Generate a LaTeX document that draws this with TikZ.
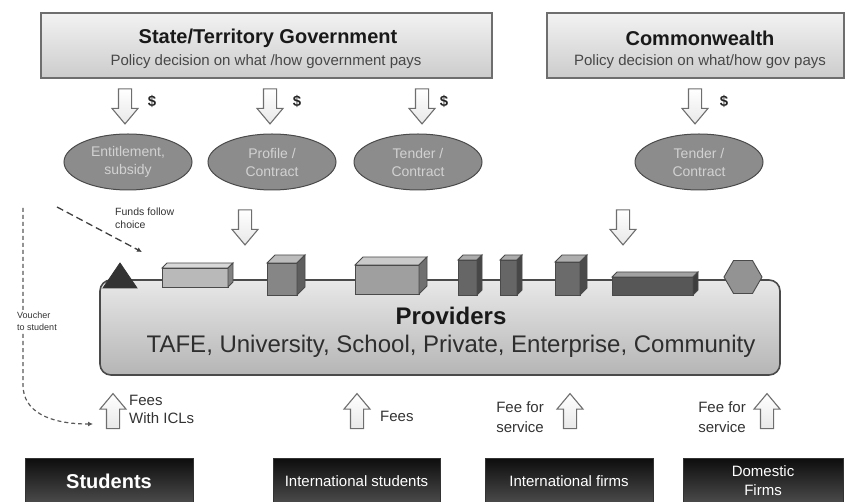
\documentclass[tikz,border=0pt]{standalone}
\usepackage{fontspec}
\setmainfont{Liberation Sans}
\usetikzlibrary{shapes.arrows,shapes.geometric,arrows.meta,calc}

\definecolor{edge}{HTML}{6E6E6E}
\definecolor{darkedge}{HTML}{4A4A4A}
\definecolor{ovalfill}{HTML}{8C8C8C}
\definecolor{ovaltext}{HTML}{D2D2D2}

% 3D block sitting on the provider bar: x1,y1,x2,y2,depth,colour
\newcommand\blockbox[6]{%
  \colorlet{blockcol}{#6}%
  \filldraw[draw=darkedge, line width=0.9pt, fill=blockcol]
    (#1,#2+#5) rectangle (#3-#5,#4);
  \filldraw[draw=darkedge, line width=0.9pt, fill=blockcol!55!white]
    (#1,#2+#5) -- (#1+#5,#2) -- (#3,#2) -- (#3-#5,#2+#5) -- cycle;
  \filldraw[draw=darkedge, line width=0.9pt, fill=blockcol!70!black]
    (#3-#5,#2+#5) -- (#3,#2) -- (#3,#4-#5) -- (#3-#5,#4) -- cycle;
}

\tikzset{
  govbox/.style={draw=edge, line width=1.4pt, top color=gray!10, bottom color=gray!40,
    minimum height=65pt, inner sep=0pt},
  govtitle/.style={font=\bfseries\fontsize{20}{22}\selectfont, text=black!90, inner sep=0pt},
  govsub/.style={font=\fontsize{15}{17}\selectfont, text=black!72, inner sep=0pt},
  oval/.style={ellipse, draw=darkedge, line width=1pt, fill=ovalfill,
    minimum width=128pt, minimum height=56pt, inner sep=0pt, align=center,
    text=ovaltext, font=\fontsize{14}{18}\selectfont},
  flowarrow/.style={single arrow, draw=edge, line width=1.1pt,
    top color=white, bottom color=gray!18,
    minimum height=35pt, inner sep=6pt, single arrow head extend=6.5pt,
    single arrow tip angle=80},
  downflow/.style={flowarrow, rotate=-90},
  upflow/.style={flowarrow, rotate=90},
  money/.style={font=\bfseries\fontsize{15}{17}\selectfont, text=black!85},
  smalltext/.style={align=left, text=black!80, inner sep=0pt},
  payer/.style={draw=black!80, top color=black!95, bottom color=black!70,
    text=white, inner sep=0pt, align=center},
  provbox/.style={draw=darkedge, line width=1.6pt, rounded corners=11pt,
    top color=gray!18, bottom color=gray!58, minimum width=680pt, minimum height=95pt},
  choiceline/.style={dashed, dash pattern=on 7pt off 4pt, line width=1.3pt, draw=black!75,
    -{Latex[length=5pt,width=5pt]}},
  voucherline/.style={dashed, dash pattern=on 4pt off 3pt, line width=1.2pt, draw=black!65,
    -{Latex[length=5pt,width=5pt]}}
}

\begin{document}
\begin{tikzpicture}[x=1pt,y=-1pt]
\useasboundingbox (0,0) rectangle (848,502);

% funding bodies
\node[govbox, minimum width=451pt] (state) at (266.5,45.5) {};
\node[govtitle] (statetitle) at (268,38) {State/Territory Government};
\node[govsub] (statesub) at (266,61.5) {Policy decision on what /how government pays};
\node[govbox, minimum width=297pt] (cwlth) at (695.5,45.5) {};
\node[govtitle] (cwlthtitle) at (700,38) {Commonwealth};
\node[govsub] (cwlthsub) at (700,61.5) {Policy decision on what/how gov pays};

% payments down to funding mechanisms
\node[downflow] (pay1) at (125,102.5) {};
\node[downflow] (pay2) at (270,102.5) {};
\node[downflow] (pay3) at (422,102.5) {};
\node[downflow] (pay4) at (695,102.5) {};
\node[money] (d1) at (152,101) {\$};
\node[money] (d2) at (297,101) {\$};
\node[money] (d3) at (444,101) {\$};
\node[money] (d4) at (724,101) {\$};

% funding mechanisms
\node[oval] (entitle) at (128,162) {Entitlement,\\subsidy};
\node[oval] (profile) at (272,162) {Profile /\\Contract};
\node[oval] (tender)  at (418,162) {Tender /\\Contract};
\node[oval] (ctender) at (699,162) {Tender /\\Contract};

\node[downflow] (into1) at (245,223.5) {};
\node[downflow] (into2) at (623,223.5) {};

% providers
\node[provbox] (prov) at (440,327.5) {};
\node[font=\bfseries\fontsize{24}{28}\selectfont, text=black!90, inner sep=0pt]
  (provtitle) at (451,316) {Providers};
\node[font=\fontsize{24}{28}\selectfont, text=black!82, inner sep=0pt]
  (provlist) at (451,346) {TAFE, University, School, Private, Enterprise, Community};

% provider types along the bar
\filldraw[fill=black!80, draw=black!80, line width=0.8pt] (103,288) -- (120,263) -- (137,288) -- cycle;
\blockbox{162}{263}{233}{287}{5}{gray!55}
\blockbox{267}{255}{305}{295}{8}{gray!95}
\blockbox{355}{257}{427}{294}{8}{gray!75}
\blockbox{458}{255}{482}{295}{5}{black!60}
\blockbox{500}{255}{522}{295}{5}{black!60}
\blockbox{555}{255}{587}{295}{7}{black!58}
\blockbox{612}{272}{698}{295}{5}{black!66}
\node[regular polygon, regular polygon sides=6, minimum size=38pt, inner sep=0pt,
  fill=gray!85, draw=darkedge, line width=0.9pt] (hex) at (743,277) {};

% funds follow choice
\coordinate (fstart) at (57,207);
\coordinate (fend) at (142,252);
\draw[choiceline] (fstart) -- (fend);
\node[smalltext, anchor=west, font=\fontsize{10.5}{13}\selectfont] (fchoice) at (115,218.5)
  {Funds follow\\choice};

% voucher to student
\coordinate (vstart) at (23,208);
\coordinate (vend) at (93,424);
\draw[voucherline] (vstart) -- (23,385) .. controls (23,412) and (50,424) .. (vend);
\node[smalltext, fill=white, inner sep=1pt, font=\fontsize{9}{12}\selectfont] (voucher) at (37,321)
  {Voucher\\to student};

% fees up to providers
\node[upflow] (fee1) at (113,415) {};
\node[upflow] (fee2) at (357,415) {};
\node[upflow] (fee3) at (570,415) {};
\node[upflow] (fee4) at (767,415) {};
\node[smalltext, anchor=west, font=\fontsize{15}{18}\selectfont] (feel1) at (129,409) {Fees\\With ICLs};
\node[smalltext, anchor=west, font=\fontsize{15}{18}\selectfont] (feel2) at (380,416) {Fees};
\node[smalltext, anchor=east, font=\fontsize{15}{20}\selectfont] (feel3) at (544,417) {Fee for\\service};
\node[smalltext, anchor=east, font=\fontsize{15}{20}\selectfont] (feel4) at (746,417) {Fee for\\service};

% payers
\node[payer, minimum width=168pt, minimum height=46pt, font=\bfseries\fontsize{20}{22}\selectfont]
  (students) at (109,481) {Students};
\node[payer, minimum width=167pt, minimum height=46pt, font=\fontsize{15}{18}\selectfont]
  (intstud) at (356.5,481) {International students};
\node[payer, minimum width=168pt, minimum height=46pt, font=\fontsize{15}{18}\selectfont]
  (intfirm) at (569,481) {International firms};
\node[payer, minimum width=160pt, minimum height=46pt, font=\fontsize{15}{19}\selectfont]
  (domfirm) at (763,481) {Domestic\\Firms};
\end{tikzpicture}
\end{document}
